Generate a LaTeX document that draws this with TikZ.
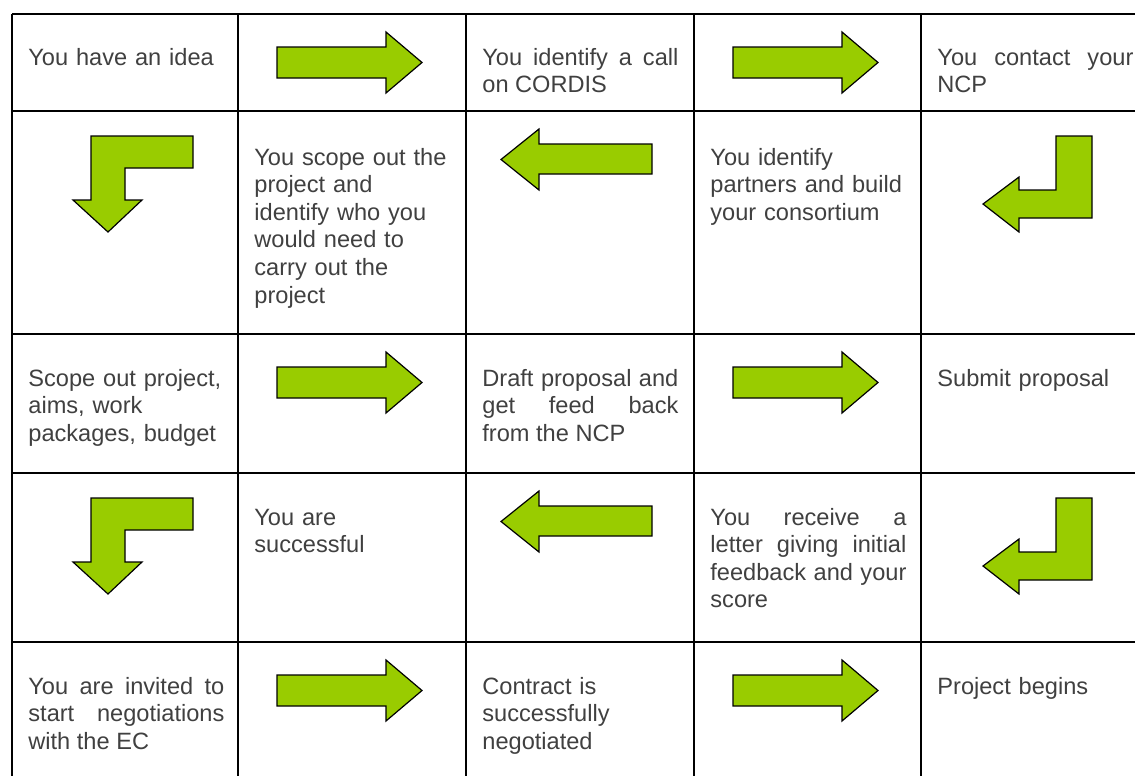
\documentclass[tikz,border=0pt]{standalone}
\usepackage{fontspec}
\setmainfont{Liberation Sans}
\definecolor{arrowgreen}{RGB}{153,204,0}
\definecolor{celltext}{RGB}{64,64,64}
\hyphenpenalty=10000
\exhyphenpenalty=10000
\tikzset{
  grid line/.style={line width=0.8pt},
  greenarrow/.style={fill=arrowgreen, draw=black, line width=0.6pt, line join=miter},
  celltxt/.style={anchor=base west, inner sep=0pt, text width=98pt, text=celltext,
    font=\fontsize{11.8}{13.8}\selectfont, align=left},
  celljust/.style={celltxt, align=justify},
}
\begin{document}
\begin{tikzpicture}[x=0.5pt, y=-0.5pt]
\useasboundingbox (0,0) rectangle (1135,776);
\clip (0,0) rectangle (1135,776);

% table
\draw[grid line] (12,14) -- (1140,14);
\draw[grid line] (12,111) -- (1140,111);
\draw[grid line] (12,334) -- (1140,334);
\draw[grid line] (12,473) -- (1140,473);
\draw[grid line] (12,642) -- (1140,642);
\draw[grid line] (12,14) -- (12,780);
\draw[grid line] (238,14) -- (238,780);
\draw[grid line] (466,14) -- (466,780);
\draw[grid line] (694,14) -- (694,780);
\draw[grid line] (921,14) -- (921,780);

% arrows to the right
\draw[greenarrow, shift={(238,14)}] (39,33) -- (148,33) -- (148,18) -- (184,48.5)
    -- (148,79) -- (148,64) -- (39,64) -- cycle;
\draw[greenarrow, shift={(694,14)}] (39,33) -- (148,33) -- (148,18) -- (184,48.5)
    -- (148,79) -- (148,64) -- (39,64) -- cycle;
\draw[greenarrow, shift={(238,334)}] (39,33) -- (148,33) -- (148,18) -- (184,48.5)
    -- (148,79) -- (148,64) -- (39,64) -- cycle;
\draw[greenarrow, shift={(694,334)}] (39,33) -- (148,33) -- (148,18) -- (184,48.5)
    -- (148,79) -- (148,64) -- (39,64) -- cycle;
\draw[greenarrow, shift={(238,642)}] (39,33) -- (148,33) -- (148,18) -- (184,48.5)
    -- (148,79) -- (148,64) -- (39,64) -- cycle;
\draw[greenarrow, shift={(694,642)}] (39,33) -- (148,33) -- (148,18) -- (184,48.5)
    -- (148,79) -- (148,64) -- (39,64) -- cycle;

% arrows to the left
\draw[greenarrow, shift={(466,111)}] (186,33) -- (73,33) -- (73,18) -- (35,48.5)
    -- (73,79) -- (73,63) -- (186,63) -- cycle;
\draw[greenarrow, shift={(466,473)}] (186,33) -- (73,33) -- (73,18) -- (35,48.5)
    -- (73,79) -- (73,63) -- (186,63) -- cycle;

% bent arrows
\draw[greenarrow, shift={(921,111)}] (135,25) -- (171,25) -- (171,107) -- (98,107)
    -- (98,121) -- (62,93) -- (98,66) -- (98,79) -- (135,79) -- cycle;
\draw[greenarrow, shift={(921,473)}] (135,25) -- (171,25) -- (171,107) -- (98,107)
    -- (98,121) -- (62,93) -- (98,66) -- (98,79) -- (135,79) -- cycle;
\draw[greenarrow, shift={(12,111)}] (79,25) -- (181,25) -- (181,57) -- (113,57)
    -- (113,89) -- (130,89) -- (96,121) -- (61,89) -- (79,89) -- cycle;
\draw[greenarrow, shift={(12,473)}] (79,25) -- (181,25) -- (181,57) -- (113,57)
    -- (113,89) -- (130,89) -- (96,121) -- (61,89) -- (79,89) -- cycle;

% cell texts
\node[celltxt] (idea) at (28,65) {You have an idea};
\node[celljust] (callid) at (482,65) {You identify a call\linebreak on CORDIS};
\node[celljust] (ncp) at (937,65) {You contact your\linebreak NCP};

\node[celltxt] (scope) at (254,165) {You scope out the\\ project and\\ identify who you\\
    would need to\\ carry out the\\ project};
\node[celltxt] (partners) at (710,165) {You identify\\ partners and build\\ your consortium};

\node[celltxt] (aims) at (28,386) {Scope out project,\\ aims, work\\ packages, budget};
\node[celljust] (draft) at (482,386) {Draft proposal and\linebreak get feed back\linebreak
    from the NCP};
\node[celltxt] (submit) at (937,386) {Submit proposal};

\node[celltxt] (success) at (254,525) {You are\\ successful};
\node[celljust] (letter) at (710,525) {You receive a\linebreak letter giving initial\linebreak
    feedback and your\linebreak score};

\node[celljust] (invited) at (28,694) {You are invited to\linebreak start negotiations\linebreak
    with the EC};
\node[celltxt] (contract) at (482,694) {Contract is\\ successfully\\ negotiated};
\node[celltxt] (begins) at (937,694) {Project begins};

\end{tikzpicture}
\end{document}
